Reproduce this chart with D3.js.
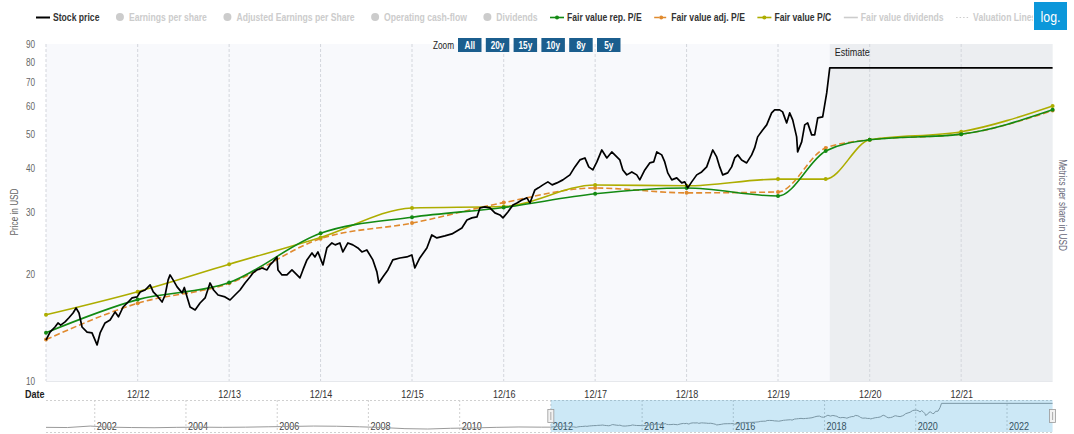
<!DOCTYPE html>
<html>
<head>
<meta charset="utf-8">
<script src="https://cdn.jsdelivr.net/npm/d3@7"></script>
<style>
html,body{margin:0;padding:0;background:#fff;}
svg{display:block;font-family:"Liberation Sans",Arial,sans-serif;}
</style>
</head>
<body>
<svg id="chart" width="1074" height="434"></svg>
<script>
// ---------------- DATA ----------------
// decimal years (2013.0 = end of Dec 2012)
const stockPrice = [
[2012.000,13.06],[2012.044,13.76],[2012.098,14.22],[2012.131,14.60],[2012.160,14.40],[2012.208,14.70],[2012.250,15.10],[2012.295,15.58],[2012.328,16.10],[2012.360,15.58],
[2012.393,14.22],[2012.448,13.76],[2012.502,13.68],[2012.557,12.65],[2012.590,13.68],[2012.644,14.60],[2012.699,14.89],[2012.754,15.69],[2012.790,15.20],[2012.841,16.20],
[2012.896,16.74],[2012.939,17.19],[2012.994,17.30],[2013.027,17.87],[2013.081,18.10],[2013.136,18.71],[2013.170,17.87],[2013.223,17.30],[2013.267,16.74],[2013.300,17.52],
[2013.333,19.33],[2013.354,19.97],[2013.387,19.33],[2013.431,18.47],[2013.486,17.76],[2013.510,18.40],[2013.540,17.30],[2013.573,16.20],[2013.628,15.89],[2013.682,16.63],
[2013.737,17.19],[2013.791,18.95],[2013.830,18.10],[2013.879,17.52],[2013.955,17.30],[2014.010,16.96],[2014.064,17.52],[2014.119,18.10],[2014.174,18.95],[2014.228,19.71],
[2014.261,20.23],[2014.305,20.63],[2014.359,20.90],[2014.414,20.63],[2014.447,21.31],[2014.480,21.74],[2014.523,22.45],[2014.534,20.63],[2014.578,19.97],[2014.632,19.97],
[2014.687,20.63],[2014.742,19.97],[2014.774,19.58],[2014.807,20.63],[2014.851,22.02],[2014.906,23.05],[2014.938,22.45],[2014.971,23.20],[2015.026,21.31],[2015.069,23.81],
[2015.124,24.60],[2015.160,24.29],[2015.211,24.60],[2015.244,23.20],[2015.299,24.60],[2015.353,24.29],[2015.408,23.81],[2015.452,23.20],[2015.506,23.50],[2015.572,22.02],
[2015.616,20.37],[2015.637,18.95],[2015.681,19.71],[2015.736,20.63],[2015.790,22.02],[2015.867,22.30],[2015.943,22.45],[2015.998,22.75],[2016.031,20.90],[2016.085,22.30],
[2016.162,23.81],[2016.216,25.92],[2016.271,25.42],[2016.358,25.75],[2016.435,26.09],[2016.490,26.60],[2016.544,27.13],[2016.599,28.58],[2016.653,28.96],[2016.708,29.15],
[2016.741,30.91],[2016.795,31.11],[2016.850,30.91],[2016.904,29.92],[2016.959,29.53],[2016.992,28.96],[2017.046,30.11],[2017.101,31.52],[2017.145,31.93],[2017.199,32.56],
[2017.254,33.00],[2017.287,31.93],[2017.341,34.76],[2017.380,35.23],[2017.429,35.92],[2017.483,36.63],[2017.530,35.92],[2017.582,36.39],[2017.647,37.11],[2017.724,38.34],
[2017.778,40.39],[2017.833,42.27],[2017.888,42.82],[2017.930,40.39],[2017.975,39.60],[2018.019,41.72],[2018.073,45.11],[2018.128,42.82],[2018.182,44.53],[2018.237,43.11],
[2018.270,42.27],[2018.303,39.60],[2018.346,38.34],[2018.401,39.09],[2018.455,38.34],[2018.488,37.11],[2018.543,39.60],[2018.597,41.45],[2018.640,41.72],[2018.674,44.53],
[2018.728,43.68],[2018.761,41.72],[2018.794,38.84],[2018.838,37.11],[2018.892,37.59],[2018.947,36.39],[2018.980,36.63],[2019.013,35.23],[2019.056,36.63],[2019.111,38.34],
[2019.165,39.09],[2019.220,40.39],[2019.286,45.11],[2019.329,43.11],[2019.362,40.39],[2019.395,38.34],[2019.450,38.84],[2019.493,40.39],[2019.526,42.82],[2019.559,43.68],
[2019.602,42.27],[2019.657,41.45],[2019.712,43.68],[2019.744,45.71],[2019.777,49.12],[2019.832,51.40],[2019.876,53.11],[2019.930,57.43],[2019.963,58.57],[2020.017,58.57],
[2020.050,57.81],[2020.094,53.81],[2020.127,57.43],[2020.160,54.88],[2020.203,49.12],[2020.214,44.53],[2020.258,47.54],[2020.291,53.11],[2020.323,53.81],[2020.367,49.77],
[2020.400,49.77],[2020.433,55.59],[2020.487,55.96],[2020.531,65.44],[2020.564,77.04],[2023.000,77.04]
];
const fairYears  = [2012, 2013, 2014, 2015, 2016, 2017, 2018, 2019, 2020, 2020.52, 2021, 2022, 2023];
const fairRepPE  = [13.7, 17.0, 19.0, 26.2, 29.1, 31.0, 33.9, 35.2, 33.4, 44.8, 48.2, 50.0, 58.6];
const fairAdjPE  = [13.1, 16.6, 18.9, 25.3, 28.0, 32.0, 35.2, 34.1, 34.3, 45.7, 48.2, 50.0, 58.3];
const fairPC     = [15.4, 17.9, 21.4, 25.5, 30.9, 31.2, 35.9, 35.7, 37.3, 37.3, 48.2, 50.8, 60.1];
const estimateStart = 2020.564;
// price history before the zoomed range (navigator only)
const navHistory = [
[2000.93,12.5],[2001.4,12.0],[2001.9,16.0],[2002.3,13.0],[2002.8,12.0],[2003.3,11.5],[2003.8,12.5],[2004.3,13.0],
[2004.8,12.5],[2005.3,13.0],[2005.8,14.0],[2006.3,15.0],[2006.8,16.0],[2007.3,15.5],[2007.8,14.0],[2008.3,12.0],
[2008.8,9.0],[2009.3,8.0],[2009.8,10.0],[2010.3,11.0],[2010.8,12.5],[2011.3,13.5],[2011.8,13.0]
];
const xTickYears  = [2013, 2014, 2015, 2016, 2017, 2018, 2019, 2020, 2021, 2022];
const xTickLabels = ["12/12","12/13","12/14","12/15","12/16","12/17","12/18","12/19","12/20","12/21"];
const yTicks      = [10, 20, 30, 40, 50, 60, 70, 80, 90];
const navTickYears  = [2002, 2004, 2006, 2008, 2010, 2012, 2014, 2016, 2018, 2020, 2022];
const navTickLabels = ["2002","2004","2006","2008","2010","2012","2014","2016","2018","2020","2022"];
const zoomButtons = ["All","20y","15y","10y","8y","5y"];
const legendNames   = ["Stock price","Earnings per share","Adjusted Earnings per Share","Operating cash-flow","Dividends","Fair value rep. P/E","Fair value adj. P/E","Fair value P/C","Fair value dividends","Valuation Lines"];
const legendSymbols = ["line","circle","circle","circle","circle","marker","dash","marker","line","dot"];
const legendActive  = [true,false,false,false,false,true,true,true,false,false];

// ---------------- STYLE ----------------
const C = {stock:"#000000", rep:"#138a13", adj:"#e08a2e", pc:"#adad00", off:"#cccccc"};
const legendColors = [C.stock,C.off,C.off,C.off,C.off,C.rep,C.adj,C.pc,C.off,C.off];
const P = {l:46, r:1052.6, t:44, b:381};
const SQUEEZE = 0.82;   // emulate a condensed face

const toDate = t => { const y = Math.floor(t); const a = Date.UTC(y,0,1), b = Date.UTC(y+1,0,1); return new Date(a + (t-y)*(b-a)); };
function narrow(node){
  const L = node.getComputedTextLength();
  node.setAttribute("textLength", (L*SQUEEZE).toFixed(2));
  node.setAttribute("lengthAdjust","spacingAndGlyphs");
  return L*SQUEEZE;
}

const svg = d3.select("#chart");
const x = d3.scaleUtc().domain([toDate(2012), toDate(2023)]).range([P.l, P.r]);
const y = d3.scaleLog().domain([10, 90]).range([P.b, P.t]);

// plot background + estimate area
svg.append("rect").attr("x",P.l).attr("y",P.t).attr("width",P.r-P.l).attr("height",P.b-P.t).attr("fill","#f8f9fc");
svg.append("rect").attr("x",x(toDate(estimateStart))).attr("y",P.t).attr("width",P.r-x(toDate(estimateStart))).attr("height",P.b-P.t).attr("fill","#eceef1");

// vertical grid
const gridYears = [2012].concat(xTickYears);
svg.append("g").selectAll("line").data(gridYears).join("line")
  .attr("x1",d=>x(toDate(d))).attr("x2",d=>x(toDate(d)))
  .attr("y1",P.t).attr("y2",P.b)
  .attr("stroke","#d3d6dc").attr("stroke-width",1).attr("stroke-dasharray","3,2");
svg.append("line").attr("x1",P.l).attr("x2",P.r).attr("y1",P.b+0.5).attr("y2",P.b+0.5).attr("stroke","#e6e8ec");

svg.append("text").attr("x",x(toDate(estimateStart))+5).attr("y",56).attr("font-size",11).attr("fill","#222").text("Estimate");

// y axis
const gy = svg.append("g").attr("transform",`translate(${P.l},0)`)
  .call(d3.axisLeft(y).tickValues(yTicks).tickFormat(d3.format("d")).tickSize(0).tickPadding(11));
gy.select(".domain").remove();
gy.attr("font-family",null);
gy.selectAll("text").attr("font-size",10).attr("fill","#666");

// x axis
const gx = svg.append("g").attr("transform",`translate(0,${P.b})`)
  .call(d3.axisBottom(x).tickValues(xTickYears.map(toDate)).tickFormat((d,i)=>xTickLabels[i]).tickSize(0).tickPadding(9));
gx.select(".domain").remove();
gx.attr("font-family",null);
gx.selectAll("text").attr("font-size",11).attr("fill","#333");
svg.append("text").attr("x",25).attr("y",398).attr("font-size",11).attr("font-weight","bold").attr("fill","#222").text("Date");

// axis titles
svg.append("text").attr("transform","translate(18,212) rotate(-90)").attr("text-anchor","middle").attr("font-size",10).attr("fill","#666").text("Price in USD");
svg.append("text").attr("transform","translate(1059,205) rotate(90)").attr("text-anchor","middle").attr("font-size",10).attr("fill","#667").text("Metrics per share in USD");

// series
svg.append("clipPath").attr("id","pc").append("rect").attr("x",P.l-3).attr("y",P.t-3).attr("width",P.r-P.l+6).attr("height",P.b-P.t+6);
const plotG = svg.append("g").attr("clip-path","url(#pc)");

const fairLine = d3.line().x(d=>x(toDate(d[0]))).y(d=>y(d[1])).curve(d3.curveMonotoneX);
const fairSeries = [
  {vals:fairAdjPE, color:C.adj, dash:"6,3"},
  {vals:fairPC,    color:C.pc,  dash:null},
  {vals:fairRepPE, color:C.rep, dash:null}
];
fairSeries.forEach(s=>{
  const pts = fairYears.map((t,i)=>[t,s.vals[i]]);
  plotG.append("path").datum(pts).attr("d",fairLine).attr("fill","none")
    .attr("stroke",s.color).attr("stroke-width",1.6).attr("stroke-dasharray",s.dash);
  plotG.append("g").selectAll("circle").data(pts).join("circle")
    .attr("cx",d=>x(toDate(d[0]))).attr("cy",d=>y(d[1])).attr("r",2).attr("fill",s.color);
});

const stockLine = d3.line().x(d=>x(toDate(d[0]))).y(d=>y(d[1]));
plotG.append("path").datum(stockPrice).attr("d",stockLine).attr("fill","none")
  .attr("stroke",C.stock).attr("stroke-width",1.7).attr("stroke-linejoin","round");

// zoom buttons
svg.append("text").attr("x",433).attr("y",49).attr("font-size",10).attr("fill","#222").text("Zoom");
const zb = svg.append("g").selectAll("g").data(zoomButtons).join("g")
  .attr("transform",(d,i)=>`translate(${458+i*27.8},38)`);
zb.append("rect").attr("width",23.5).attr("height",14).attr("fill","#1b5e8e");
zb.append("text").attr("x",11.75).attr("y",10.5).attr("text-anchor","middle").attr("font-size",10).attr("font-weight","bold").attr("fill","#fff").text(d=>d);

// navigator
const N = {t:400, b:432};
const nx = d3.scaleUtc().domain([toDate(2000.93), toDate(2023)]).range([P.l, P.r]);
const ny = d3.scaleLinear().domain([0, 78]).range([N.b, 403]);
svg.append("g").selectAll("line").data(navTickYears).join("line")
  .attr("x1",d=>nx(toDate(d))).attr("x2",d=>nx(toDate(d))).attr("y1",N.t).attr("y2",N.b)
  .attr("stroke","#d0d0d0").attr("stroke-dasharray","2,2");
[N.t, N.b].forEach(v=>svg.append("line").attr("x1",P.l).attr("x2",P.r).attr("y1",v+0.5).attr("y2",v+0.5).attr("stroke","#d0d0d0").attr("stroke-dasharray","2,2"));
svg.append("g").selectAll("text").data(navTickYears).join("text")
  .attr("x",d=>nx(toDate(d))+2).attr("y",430).attr("font-size",11).attr("fill","#444").text((d,i)=>navTickLabels[i]);
const navLine = d3.line().x(d=>nx(toDate(d[0]))).y(d=>ny(d[1]));
svg.append("path").datum(navHistory.concat(stockPrice)).attr("d",navLine).attr("fill","none").attr("stroke","#9a9a9a").attr("stroke-width",1);
const m0 = nx(toDate(2012)), m1 = P.r;
svg.append("rect").attr("x",m0).attr("y",N.t).attr("width",m1-m0).attr("height",N.b-N.t).attr("fill","rgba(0,140,210,0.2)");
[m0, m1].forEach(hx=>{
  svg.append("rect").attr("x",hx-3).attr("y",409.5).attr("width",6).attr("height",13).attr("fill","#f2f2f2").attr("stroke","#999").attr("stroke-width",0.8);
  svg.append("line").attr("x1",hx).attr("x2",hx).attr("y1",412).attr("y2",420).attr("stroke","#999").attr("stroke-width",0.8);
});

// condense all texts drawn so far
svg.selectAll("text").each(function(){ narrow(this); });

// legend (clipped where the log button sits)
svg.append("clipPath").attr("id","lgc").append("rect").attr("x",0).attr("y",0).attr("width",1033).attr("height",34);
const lg = svg.append("g").attr("clip-path","url(#lgc)");
let box = 36;               // start of the 16px symbol box
legendNames.forEach((name,i)=>{
  const col = legendColors[i], sym = legendSymbols[i];
  const g = lg.append("g");
  if (sym === "circle") {
    g.append("circle").attr("cx",box+8).attr("cy",17).attr("r",4).attr("fill",col);
  } else {
    const ln = g.append("line").attr("x1",box).attr("x2",box+14).attr("y1",17.5).attr("y2",17.5).attr("stroke",col).attr("stroke-width",i===0?2:1.6);
    if (sym === "dash") ln.attr("stroke-dasharray","5,2");
    if (sym === "dot") ln.attr("stroke-dasharray","1.5,2").attr("stroke-width",1);
    if (sym === "marker" || sym === "dash") g.append("circle").attr("cx",box+7).attr("cy",17.5).attr("r",2).attr("fill",col);
  }
  const tx = box + 17;
  const t = g.append("text").attr("x",tx).attr("y",21).attr("font-size",10.5).attr("font-weight","bold")
    .attr("fill", legendActive[i] ? "#333" : col).text(name);
  const w = narrow(t.node());
  box = tx + w + 12.5;
});

// log button
svg.append("rect").attr("x",1034).attr("y",2).attr("width",33).attr("height",28).attr("fill","#0b97da");
const lt = svg.append("text").attr("x",1050.5).attr("y",22).attr("text-anchor","middle").attr("font-size",15).attr("fill","#fff").text("log.");
narrow(lt.node());
</script>
</body>
</html>
